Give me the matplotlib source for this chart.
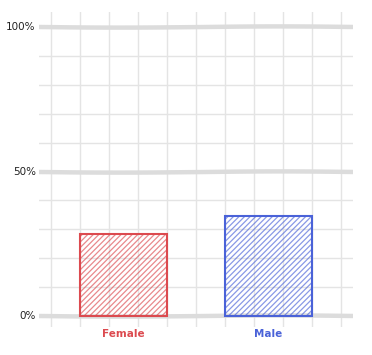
import matplotlib
matplotlib.use("Agg")
import matplotlib.pyplot as plt
import numpy as np

# data
categories = ["Female", "Male"]
shares = [28.3, 34.6]          # percent
bar_colors = ["#dc4a4f", "#4a62d8"]
y_ticks = [0, 50, 100]
y_tick_labels = ["0%", "50%", "100%"]

plt.rcParams["hatch.linewidth"] = 0.9

fig = plt.figure(figsize=(3.72, 3.55), dpi=100)
fig.patch.set_facecolor("#ffffff")
ax = fig.add_axes([39 / 372, 28 / 355, 314 / 372, 315 / 355])
ax.set_xlim(-0.583, 1.583)
ax.set_ylim(-3.8, 105.2)
for s in ax.spines.values():
    s.set_visible(False)
ax.set_xticks([])
ax.set_yticks([])

# sketchy grid
grid_col = "#e4e4e4"
for gx in np.arange(-0.5, 1.51, 0.2):
    ax.axvline(gx, color=grid_col, lw=1.0, zorder=0)
for gy in range(10, 100, 10):
    if gy == 50:
        continue
    ax.axhline(gy, color=grid_col, lw=1.0, zorder=0)
for gy in y_ticks:
    ln = ax.axhline(gy, color="#dcdcdc", lw=3.2, zorder=0.5)
    ln.set_sketch_params(scale=0.6, length=350, randomness=2)

# bars
xs = np.arange(len(categories))
for x, v, c in zip(xs, shares, bar_colors):
    ax.bar(x, v, width=0.6, facecolor="none", edgecolor=c, hatch="//////",
           lw=0, alpha=0.65, zorder=2)
    ax.bar(x, v, width=0.6, facecolor="none", edgecolor=c, lw=1.5, zorder=3)

# labels
for x, name, c in zip(xs, categories, bar_colors):
    ax.text(x, -4.5, name, color=c, fontsize=7.5, fontweight="bold",
            ha="center", va="top", clip_on=False)
for y, lab in zip(y_ticks, y_tick_labels):
    ax.text(-0.605, y, lab, color="#222222", fontsize=7.5,
            ha="right", va="center", clip_on=False)

fig.savefig("out.png", dpi=100)
